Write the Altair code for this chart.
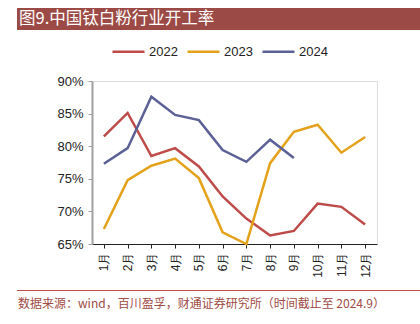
import altair as alt
import pandas as pd

months = ["1月", "2月", "3月", "4月", "5月", "6月", "7月", "8月", "9月", "10月", "11月", "12月"]
v2022 = [81.5, 85.1, 78.5, 79.7, 76.9, 72.3, 68.9, 66.3, 67.0, 71.2, 70.7, 68.0]
v2023 = [67.3, 74.8, 77.0, 78.1, 75.1, 66.8, 65.0, 77.4, 82.2, 83.3, 79.0, 81.4]
v2024 = [77.3, 79.7, 87.6, 84.8, 84.0, 79.4, 77.6, 81.0, 78.2]
series = ["2022", "2023", "2024"]
colors = ["#BE4B48", "#E3A21A", "#5B6096"]
y_ticks = [65, 70, 75, 80, 85, 90]
title_text = "图9.中国钛白粉行业开工率"
source_text = "数据来源：wind，百川盈孚，财通证券研究所（时间截止至 2024.9）"

rows = []
for name, vals in zip(series, [v2022, v2023, v2024]):
    for m, v in zip(months, vals):
        rows.append({"month": m, "value": v, "year": name})
df = pd.DataFrame(rows)

lines = alt.Chart(df).mark_line(strokeWidth=2.5, clip=False).encode(
    x=alt.X("month:O", sort=months,
            scale=alt.Scale(type="point", padding=0.5),
            axis=alt.Axis(title=None, labelAngle=270, labelAlign="right", labelBaseline="middle",
                          labelFontSize=12, labelColor="#222", labelPadding=4,
                          domainColor="#222", domainWidth=1.2, tickColor="#222", tickSize=4,
                          labelFont="Liberation Sans")),
    y=alt.Y("value:Q", scale=alt.Scale(domain=[65, 90], nice=False, zero=False),
            axis=alt.Axis(title=None, values=y_ticks, labelExpr="datum.value + '%'",
                          labelFontSize=13, labelColor="#222", labelFont="Liberation Sans",
                          domainColor="#A0A0A0", domainWidth=2, tickColor="#A0A0A0",
                          tickSize=4, labelPadding=5, grid=False)),
    color=alt.Color("year:N", scale=alt.Scale(domain=series, range=colors),
                    legend=alt.Legend(title=None, orient="none", direction="horizontal",
                                      legendX=19, legendY=-47, symbolType="stroke",
                                      symbolStrokeWidth=2.5, symbolSize=1024,
                                      labelFontSize=13, labelFont="Liberation Sans",
                                      labelColor="#222", columnPadding=4, labelOffset=3)),
)

deco = alt.Data(values=[{"a": 1}])
title_bar = alt.Chart(deco).mark_rect(color="#9B4A45").encode(
    x=alt.value(-75), x2=alt.value(328), y=alt.value(-73), y2=alt.value(-51))
title_txt = alt.Chart(deco).mark_text(align="left", baseline="middle", fontSize=16.5,
                                      color="#FFFFFF", font="Noto Sans CJK SC").encode(
    x=alt.value(-73), y=alt.value(-62), text=alt.value(title_text))
foot_line = alt.Chart(deco).mark_rule(color="#C0504D", strokeWidth=1).encode(
    x=alt.value(-75), x2=alt.value(328), y=alt.value(209.5))
foot_txt = alt.Chart(deco).mark_text(align="left", baseline="middle", fontSize=12,
                                     color="#A04B45", font="Noto Sans CJK SC").encode(
    x=alt.value(-74), y=alt.value(223), text=alt.value(source_text))

chart = alt.layer(title_bar, title_txt, foot_line, foot_txt, lines).properties(
    width=285, height=163,
    autosize=alt.AutoSizeParams(type="none"),
    padding={"left": 92, "top": 81, "right": 43, "bottom": 80},
).configure_view(stroke=None).configure(background="white")

chart.save("out.html", embed_options={"renderer": "svg", "actions": False})
